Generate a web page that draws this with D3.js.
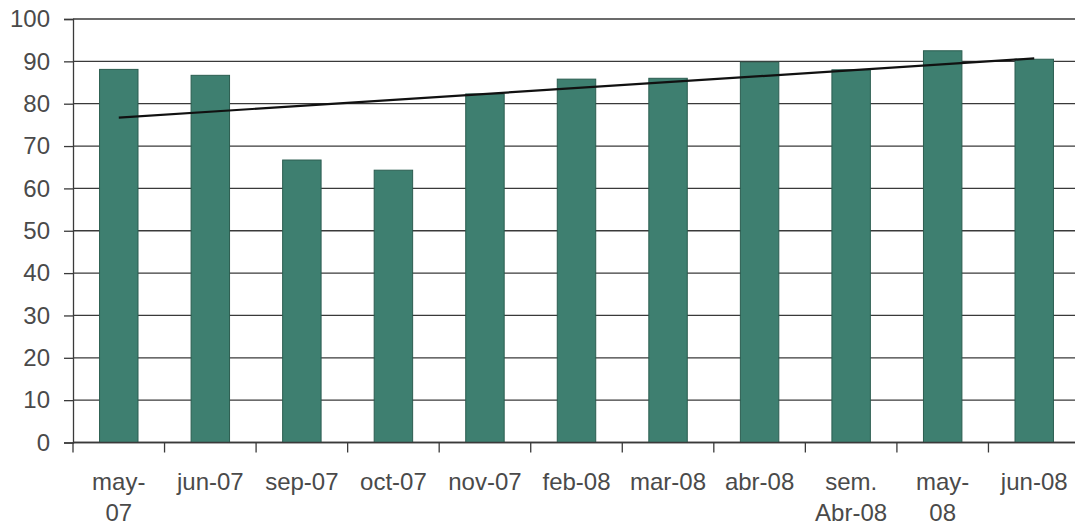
<!DOCTYPE html>
<html>
<head>
<meta charset="utf-8">
<script src="https://cdn.jsdelivr.net/npm/d3@7"></script>
<style>
  html, body { margin: 0; padding: 0; background: #fff; overflow: hidden; }
  svg { display: block; }
  text { font-family: "Liberation Sans", Arial, sans-serif; fill: #4a4a4a; }
</style>
</head>
<body>
<svg id="chart" width="1075" height="527"></svg>
<script>
// Monthly values
const categories = ["may-\n07", "jun-07", "sep-07", "oct-07", "nov-07", "feb-08", "mar-08", "abr-08", "sem.\nAbr-08", "may-\n08", "jun-08"];
const values = [88.1, 86.7, 66.7, 64.3, 82.3, 85.8, 86.0, 89.8, 88.0, 92.5, 90.5];
const yTicks = [0, 10, 20, 30, 40, 50, 60, 70, 80, 90, 100];

const svg = d3.select("#chart");
const W = 1075;
const x0 = 73, x1 = 1080;
const y0 = 442.5, y1 = 19;

const x = d3.scaleBand().domain(d3.range(categories.length)).range([x0, x1]).paddingInner(0.58).paddingOuter(0.29);
const xb = d3.scaleBand().domain(d3.range(categories.length)).range([x0, x1]);
const y = d3.scaleLinear().domain([0, 100]).range([y0, y1]);

// Horizontal gridlines
svg.append("g").selectAll("line").data(yTicks).join("line")
  .attr("x1", x0).attr("x2", W)
  .attr("y1", d => y(d)).attr("y2", d => y(d))
  .attr("stroke", "#3a3a3a").attr("stroke-width", 1.3);

// Y axis
const yAxis = svg.append("g").attr("transform", `translate(${x0},0)`)
  .call(d3.axisLeft(y).tickValues(yTicks).tickSize(9).tickPadding(14));
yAxis.select(".domain").attr("stroke", "#3a3a3a").attr("stroke-width", 1.3);
yAxis.selectAll(".tick line").attr("stroke", "#3a3a3a").attr("stroke-width", 1.3);
yAxis.selectAll(".tick text").attr("font-size", 24).attr("fill", "#4a4a4a")
  .style("font-family", "'Liberation Sans', Arial, sans-serif");

// Bars
svg.append("g").selectAll("rect").data(values).join("rect")
  .attr("x", (d, i) => x(i)).attr("width", x.bandwidth())
  .attr("y", d => y(d)).attr("height", d => y(0) - y(d))
  .attr("fill", "#3e7f70").attr("stroke", "#2b5d50").attr("stroke-width", 1);

// X axis line and ticks at category boundaries
svg.append("line").attr("x1", x0).attr("x2", W).attr("y1", y0).attr("y2", y0)
  .attr("stroke", "#3a3a3a").attr("stroke-width", 1.6);
svg.append("g").selectAll("line").data(d3.range(categories.length + 1)).join("line")
  .attr("x1", i => x0 + i * xb.bandwidth()).attr("x2", i => x0 + i * xb.bandwidth())
  .attr("y1", y0).attr("y2", y0 + 10)
  .attr("stroke", "#3a3a3a").attr("stroke-width", 1.3);

// Category labels
const lab = svg.append("g").selectAll("text").data(categories).join("text")
  .attr("text-anchor", "middle").attr("font-size", 24).attr("fill", "#4a4a4a")
  .attr("x", (d, i) => xb(i) + xb.bandwidth() / 2)
  .attr("y", 490);
lab.each(function (d) {
  const parts = d.split("\n");
  const t = d3.select(this);
  parts.forEach((p, k) => {
    t.append("tspan").attr("x", t.attr("x")).attr("dy", k === 0 ? 0 : 31).text(p);
  });
});

// Linear trend line (least squares over category index)
const n = values.length;
const xs = d3.range(1, n + 1);
const mx = d3.mean(xs), my = d3.mean(values);
const slope = d3.sum(xs, (v, i) => (v - mx) * (values[i] - my)) / d3.sum(xs, v => (v - mx) ** 2);
const intercept = my - slope * mx;
const cx = i => x(i) + x.bandwidth() / 2;
svg.append("line")
  .attr("x1", cx(0)).attr("y1", y(intercept + slope * 1))
  .attr("x2", cx(n - 1)).attr("y2", y(intercept + slope * n))
  .attr("stroke", "#111").attr("stroke-width", 2.2);
</script>
</body>
</html>
